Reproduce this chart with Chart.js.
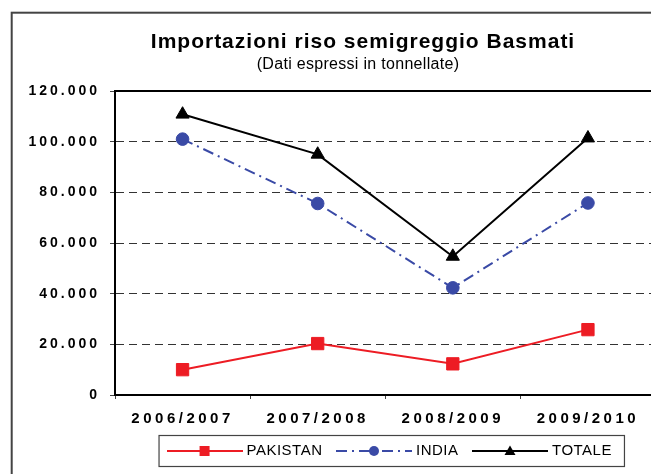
<!DOCTYPE html>
<html>
<head>
<meta charset="utf-8">
<script src="https://cdn.jsdelivr.net/npm/chart.js@4/dist/chart.umd.min.js"></script>
<style>
  body { margin: 0; overflow: hidden; background: #fff; }
  canvas { display: block; }
</style>
</head>
<body>
<canvas id="myChart" width="680" height="474"></canvas>
<script>
const categories = ['2006/2007', '2007/2008', '2008/2009', '2009/2010'];
const seriesNames = ['PAKISTAN', 'INDIA', 'TOTALE'];
const pakistan = [10000, 20300, 12300, 25800];
const india = [101000, 75600, 42300, 75800];
const totale = [110800, 95000, 54700, 101400];
const yTicks = ['0', '20.000', '40.000', '60.000', '80.000', '100.000', '120.000'];

const titleText = 'Importazioni riso semigreggio Basmati';
const subtitleText = '(Dati espressi in tonnellate)';

const font = 'Arial, "Liberation Sans", sans-serif';
const red = '#ed1c24';
const blue = '#3a4aa6';
const indiaDash = [11, 5, 2, 5];

// little picture of line + marker for the legend
const swatch = (color, dash, marker) => {
  const c = document.createElement('canvas');
  c.width = 76;
  c.height = 14;
  const g = c.getContext('2d');
  g.strokeStyle = color;
  g.fillStyle = color;
  g.lineWidth = 2;
  g.setLineDash(dash);
  g.beginPath();
  g.moveTo(0, 7);
  g.lineTo(76, 7);
  g.stroke();
  g.beginPath();
  if (marker === 'rect') g.rect(33, 2, 10, 10);
  if (marker === 'circle') g.arc(38, 7, 5, 0, Math.PI * 2);
  if (marker === 'triangle') { g.moveTo(38, 1.5); g.lineTo(43.5, 11); g.lineTo(32.5, 11); g.closePath(); }
  g.fill();
  return c;
};
const swatches = [swatch(red, [], 'rect'), swatch(blue, indiaDash, 'circle'), swatch('#000', [], 'triangle')];

const spacing = { x: '3.5px', y: '3px' };

const decor = {
  id: 'decor',
  afterLayout(chart) {
    Object.keys(spacing).forEach((id) => {
      const scale = chart.scales[id];
      if (scale.spaced) return;
      const drawLabels = scale.drawLabels;
      scale.drawLabels = function (area) {
        this.ctx.save();
        this.ctx.letterSpacing = spacing[id];
        drawLabels.call(this, area);
        this.ctx.restore();
      };
      scale.spaced = true;
    });
    const legend = chart.legend;
    legend.left += 1;
    legend.right += 1;
    if (!legend.spaced) {
      const draw = legend.draw;
      legend.draw = function () {
        this.ctx.save();
        this.ctx.letterSpacing = '0.5px';
        draw.call(this);
        this.ctx.restore();
      };
      legend.spaced = true;
    }
  },
  beforeDraw(chart) {
    const ctx = chart.ctx;
    ctx.save();
    ctx.strokeStyle = '#444';
    ctx.lineWidth = 2;
    ctx.strokeRect(11.7, 12.7, 1000, 1000);
    ctx.restore();
  },
  beforeDatasetsDraw(chart) {
    const {ctx, chartArea} = chart;
    ctx.save();
    ctx.strokeStyle = '#000';
    ctx.lineWidth = 2;
    ctx.beginPath();
    ctx.moveTo(chartArea.left, chartArea.top);
    ctx.lineTo(chartArea.right, chartArea.top);
    ctx.stroke();
    ctx.restore();
  },
  afterDraw(chart) {
    const ctx = chart.ctx;
    ctx.save();
    ctx.fillStyle = '#000';
    ctx.textAlign = 'center';
    ctx.textBaseline = 'middle';
    ctx.letterSpacing = '1px';
    ctx.font = 'bold 21px ' + font;
    ctx.fillText(titleText, 363, 42);
    ctx.letterSpacing = '0.3px';
    ctx.font = '16px ' + font;
    ctx.fillText(subtitleText, 358, 65);
    ctx.restore();

    // frame round the legend
    const boxes = chart.legend.legendHitBoxes;
    if (!boxes || !boxes.length) return;
    const first = boxes[0];
    const last = boxes[boxes.length - 1];
    const midY = first.top + first.height / 2;
    ctx.save();
    ctx.strokeStyle = '#444';
    ctx.lineWidth = 1.2;
    ctx.strokeRect(first.left - 11, midY - 15.5, last.left + last.width - first.left + 33, 31);
    ctx.restore();
  }
};

var ctx = document.getElementById('myChart').getContext('2d');
var chart = new Chart(ctx, {
  type: 'line',
  data: {
    labels: categories,
    datasets: [{
      label: seriesNames[0],
      data: pakistan,
      borderColor: red,
      backgroundColor: red,
      borderWidth: 2,
      pointStyle: 'rect',
      pointRadius: 8.7,
      pointBorderWidth: 1
    }, {
      label: seriesNames[1],
      data: india,
      borderColor: blue,
      backgroundColor: blue,
      borderWidth: 2,
      borderDash: indiaDash,
      pointStyle: 'circle',
      pointRadius: 6.3,
      pointBorderWidth: 1
    }, {
      label: seriesNames[2],
      data: totale,
      borderColor: '#000',
      backgroundColor: '#000',
      borderWidth: 2,
      pointStyle: 'triangle',
      pointRadius: 7.6,
      pointBorderWidth: 1
    }]
  },
  options: {
    responsive: false,
    animation: false,
    devicePixelRatio: 1,
    layout: { padding: { top: 91, right: 24.5, bottom: 5.5, left: 0 } },
    plugins: {
      title: { display: false },
      tooltip: { enabled: false },
      legend: {
        position: 'bottom',
        fullSize: false,
        labels: {
          color: '#000',
          font: { family: font, size: 15 },
          usePointStyle: true,
          pointStyleWidth: 69,
          padding: 17,
          generateLabels: (chart) => Chart.defaults.plugins.legend.labels.generateLabels(chart)
            .map((item, i) => Object.assign(item, { pointStyle: swatches[i] }))
        }
      }
    },
    scales: {
      x: {
        offset: true,
        afterFit: (scale) => { scale.height = 31.5; },
        grid: { offset: true, drawOnChartArea: false, drawTicks: true, tickLength: 4, tickColor: '#444', tickWidth: 1 },
        border: { color: '#000', width: 2 },
        ticks: { color: '#000', padding: 11, font: { family: font, size: 15, weight: 'bold' } }
      },
      y: {
        min: 0,
        max: 120000,
        afterFit: (scale) => { scale.width = 115; },
        grid: { color: '#333', lineWidth: 1, tickLength: 5, tickColor: '#444', tickWidth: 1 },
        border: { color: '#000', width: 2, dash: [8, 5] },
        ticks: {
          stepSize: 20000,
          color: '#000',
          padding: 10,
          font: { family: font, size: 14, weight: 'bold' },
          callback: (value, index) => yTicks[index]
        }
      }
    }
  },
  plugins: [decor]
});
</script>
</body>
</html>
